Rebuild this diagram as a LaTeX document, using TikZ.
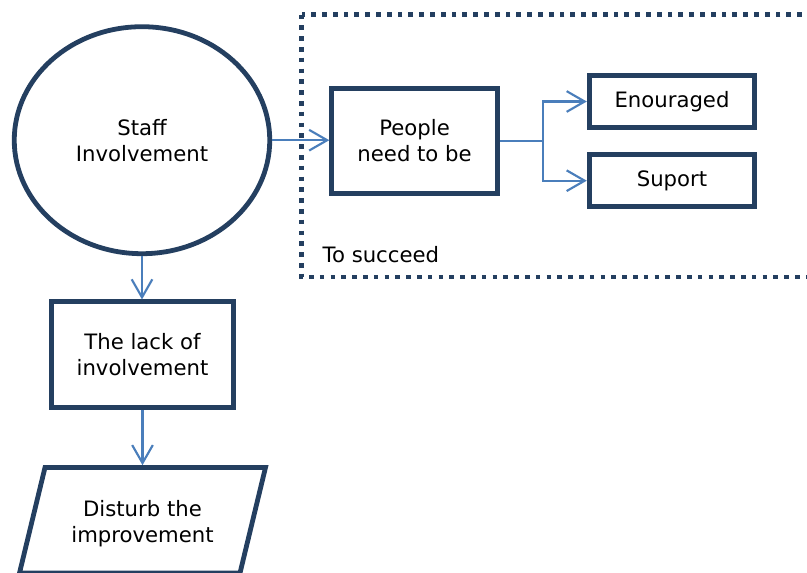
\documentclass[tikz,border=0pt]{standalone}
\usepackage{fontspec}
\setmainfont{DejaVu Sans}
\usetikzlibrary{arrows.meta,shapes.geometric}
\definecolor{navy}{HTML}{243F60}
\definecolor{linkblue}{HTML}{4A7EBB}
\begin{document}
\begin{tikzpicture}[x=0.75pt,y=-0.75pt,
  every node/.style={font=\fontsize{15.9}{19.5}\selectfont, text=black},
  outline/.style={draw=navy, line width=3.6pt},
  box/.style={outline, rectangle, inner sep=0pt, align=center},
  wire/.style={draw=linkblue, line width=1.6pt},
  link/.style={wire, -{Straight Barb[length=13.5pt,width=15.5pt]}},
  dotframe/.style={draw=navy, line width=3.4pt, dash pattern=on 3.5pt off 4.6pt},
]
\useasboundingbox (0,0) rectangle (807,572);

% dotted group frame (runs off the right edge)
\draw[dotframe] (301.5,14.5) rectangle (840,277);
\node[anchor=base west] (succeed) at (318,262) {To succeed};

% main shapes
\node[ellipse, outline, inner sep=0pt, align=center,
      minimum width=255.5*0.75pt, minimum height=227*0.75pt] (staff) at (142,140.2) {Staff\\Involvement};
\node[box, minimum width=165.8*0.75pt, minimum height=105*0.75pt] (people) at (414.6,140.8) {People\\need to be};
\node[box, minimum width=165.6*0.75pt, minimum height=52*0.75pt] (enc) at (672,101.5) {Enouraged};
\node[box, minimum width=165.6*0.75pt, minimum height=52*0.75pt] (sup) at (672,180.7) {Suport};
\node[box, minimum width=181.4*0.75pt, minimum height=105.7*0.75pt] (lack) at (142.5,354.7) {The lack of\\involvement};

% parallelogram (bottom edge runs off the page)
\draw[outline, line join=miter] (45,467.5) -- (265.5,467.5) -- (240,573) -- (19.5,573) -- cycle;
\node[align=center] (dist) at (142.5,523.5) {Disturb the\\improvement};
\coordinate (disttop) at (142.5,465.2);

% connectors
\draw[link] (staff.east) -- (staff.east -| people.west);
\draw[link] (staff.south) -- (staff.south |- lack.north);
\draw[link] (lack.south) -- (disttop);
\coordinate (fork) at (543.3,140.8);
\draw[wire] (people.east) -- (fork);
\draw[link] (fork) |- (enc.west);
\draw[link] (fork) |- (sup.west);
\end{tikzpicture}
\end{document}
